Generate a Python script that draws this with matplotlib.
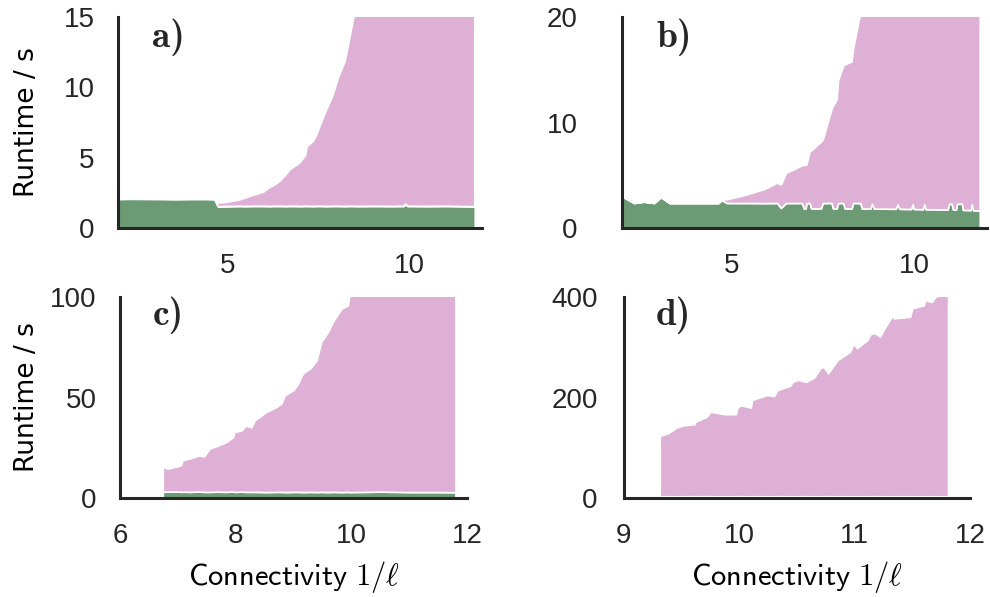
import matplotlib
matplotlib.use("Agg")
import matplotlib.pyplot as plt

plt.rcParams.update({
    "font.family": ["Liberation Sans", "DejaVu Sans"],
    "mathtext.fontset": "cm",
    "axes.edgecolor": "#262626",
    "text.color": "#262626",
    "xtick.color": "#262626",
    "ytick.color": "#262626",
})

GREEN = "#6b9a74"
PINK = "#dfb0d6"
SPINE = "#262626"

# ── panel a ───────────────────────────────────────────────────────────────────
xa = [2.0, 2.4, 2.8, 3.2, 3.6, 4.0, 4.4, 4.65,
      4.75, 5.0, 5.35, 5.5, 5.75, 6.0, 6.15, 6.3,
      6.45, 6.6, 6.73, 6.9, 7.0, 7.15, 7.2, 7.36,
      7.45, 7.55, 7.73, 7.91, 8.05, 8.24, 8.36, 8.47,
      8.6, 9.0, 9.5, 9.85, 9.9, 9.95, 10.5, 11.0,
      11.5, 11.8]
green_a = [2.05, 2.07, 2.06, 2.05, 2.04, 2.05, 2.05, 2.04,
           1.52, 1.53, 1.55, 1.54, 1.55, 1.55, 1.54, 1.55,
           1.55, 1.54, 1.55, 1.55, 1.54, 1.55, 1.55, 1.54,
           1.55, 1.55, 1.54, 1.55, 1.55, 1.54, 1.55, 1.55,
           1.54, 1.55, 1.54, 1.55, 1.72, 1.55, 1.54, 1.55,
           1.53, 1.52]
pink_a = [0, 0, 0, 0, 0, 0, 0, 0,
          0.25, 0.3, 0.45, 0.6, 0.8, 1.0, 1.3, 1.5,
          1.77, 2.2, 2.6, 2.9, 3.1, 3.6, 4.25, 4.6,
          5.0, 5.7, 6.85, 7.9, 9.1, 10.3, 11.85, 13.3,
          15.5, 18.0, 22.0, 25.0, 25.5, 26.0, 32.0, 38.0,
          44.0, 48.0]

# ── panel b ───────────────────────────────────────────────────────────────────
xb = [2.0, 2.33, 2.6, 2.88, 3.06, 3.3, 4.0, 4.64,
      4.73, 4.87, 5.4, 5.9, 6.25, 6.35, 6.49, 6.93,
      6.98, 7.03, 7.05, 7.14, 7.18, 7.45, 7.5, 7.74,
      7.78, 7.88, 7.92, 8.06, 8.1, 8.29, 8.33, 8.53,
      8.57, 8.8, 8.85, 8.9, 9.5, 9.55, 9.6, 9.92,
      9.96, 10.0, 10.24, 10.28, 10.32, 10.92, 10.96, 11.03,
      11.07, 11.15, 11.18, 11.31, 11.34, 11.55, 11.58, 11.62,
      11.8]
green_b = [3.0, 2.37, 2.5, 2.37, 2.94, 2.37, 2.37, 2.37,
           2.65, 2.37, 2.37, 2.36, 2.37, 1.9, 2.37, 2.37,
           1.85, 1.87, 2.37, 2.37, 1.86, 1.86, 2.37, 2.37,
           1.86, 1.86, 2.37, 2.37, 1.86, 1.85, 2.37, 2.37,
           1.85, 1.84, 2.3, 1.84, 1.82, 2.25, 1.82, 1.8,
           2.25, 1.8, 1.78, 2.25, 1.78, 1.75, 2.3, 2.3,
           1.74, 1.74, 2.3, 2.3, 1.72, 1.7, 2.25, 1.68,
           1.66]
pink_b = [0, 0, 0, 0, 0, 0, 0, 0,
          0.1, 0.35, 0.8, 1.34, 1.93, 2.2, 2.85, 3.58,
          4.12, 4.13, 3.63, 4.93, 5.49, 6.34, 6.03, 8.93,
          9.74, 10.34, 11.63, 13.03, 13.64, 13.95, 14.63, 18.13,
          19.15, 20.66, 20.7, 21.66, 26.18, 26.25, 27.18, 29.7,
          29.75, 30.2, 32.22, 32.05, 32.82, 37.25, 37.2, 37.7,
          38.56, 39.26, 38.9, 40.0, 40.78, 42.3, 42.05, 42.92,
          44.34]

# ── panel c ───────────────────────────────────────────────────────────────────
xc = [6.74, 6.83, 7.03, 7.06, 7.08, 7.2, 7.37, 7.45,
      7.55, 7.7, 7.84, 7.95, 7.98, 8.1, 8.18, 8.27,
      8.33, 8.53, 8.7, 8.79, 8.85, 9.0, 9.08, 9.16,
      9.3, 9.4, 9.48, 9.6, 9.68, 9.83, 9.94, 9.97,
      10.5, 11.0, 11.5, 11.8]
green_c = [3.2, 3.4, 3.3, 3.2, 3.3, 3.2, 3.4, 3.2,
           3.2, 3.3, 3.2, 3.4, 3.2, 3.3, 3.2, 3.2,
           3.2, 3.1, 3.2, 3.2, 3.1, 3.2, 3.2, 3.1,
           3.2, 3.1, 3.2, 3.1, 3.2, 3.1, 3.2, 3.1,
           3.3, 3.1, 3.1, 3.0]
pink_c = [12.4, 11.3, 12.9, 13.5, 15.6, 16.5, 17.9, 17.5,
          21.5, 22.9, 24.8, 26.8, 29.7, 30.4, 33.0, 32.0,
          35.5, 39.8, 42.0, 43.8, 48.0, 50.5, 53.7, 58.8,
          61.5, 65.4, 74.4, 79.6, 84.3, 91.0, 92.5, 98.1,
          109.4, 119.6, 129.6, 135.7]

# ── panel d ───────────────────────────────────────────────────────────────────
xd = [9.31, 9.38, 9.46, 9.52, 9.61, 9.62, 9.72, 9.75,
      9.87, 9.97, 9.98, 10.01, 10.1, 10.11, 10.24, 10.3,
      10.33, 10.44, 10.46, 10.51, 10.58, 10.65, 10.7, 10.73,
      10.77, 10.85, 10.96, 10.99, 11.02, 11.11, 11.14, 11.18,
      11.22, 11.25, 11.33, 11.34, 11.48, 11.5, 11.6, 11.61,
      11.67, 11.7, 11.81]
green_d = [4.0, 4.2, 3.9, 4.1, 4.0, 4.0, 4.3, 4.0,
           3.9, 4.0, 4.1, 4.0, 4.0, 4.2, 4.0, 3.9,
           4.0, 4.1, 4.0, 4.0, 4.2, 4.0, 3.9, 4.0,
           4.0, 4.1, 4.0, 4.0, 3.9, 4.0, 4.1, 4.0,
           4.0, 4.0, 3.9, 4.0, 4.1, 4.0, 4.0, 3.9,
           4.0, 4.0, 3.9]
pink_d = [120, 125, 137, 141, 143, 148, 158, 168,
          163, 163, 174, 181, 176, 191, 201, 199,
          211, 219, 227, 231, 227, 236, 254, 257,
          244, 270, 287, 303, 294, 310, 323, 323,
          317, 330, 360, 353, 356, 373, 379, 389,
          386, 396, 406]

panels = [
    # data, xlim, xticks, ylim, yticks, tag, axes rect, ytick pad
    ((xa, green_a, pink_a), (2, 12), [5, 10], (0, 15), [0, 5, 10, 15], "a)",
     [0.1192, 0.6181, 0.3677, 0.3534], 17),
    ((xb, green_b, pink_b), (2, 12), [5, 10], (0, 20), [0, 10, 20], "b)",
     [0.6283, 0.6181, 0.3687, 0.3534], 32),
    ((xc, green_c, pink_c), (6, 12), [6, 8, 10, 12], (0, 100), [0, 50, 100], "c)",
     [0.1212, 0.1653, 0.3505, 0.3377], 17),
    ((xd, green_d, pink_d), (9, 12), [9, 10, 11, 12], (0, 400), [0, 200, 400], "d)",
     [0.6303, 0.1653, 0.3495, 0.3377], 19),
]

fig = plt.figure(figsize=(9.9, 5.97), dpi=100, facecolor="white")

axes = []
for (x, g, p), xlim, xt, ylim, yt, tag, rect, ypad in panels:
    ax = fig.add_axes(rect)
    ax.stackplot(x, g, p, colors=[GREEN, PINK], edgecolor="white", linewidth=1.2)
    ax.set_xlim(*xlim)
    ax.set_ylim(*ylim)
    ax.set_xticks(xt)
    ax.set_yticks(yt)
    ax.tick_params(axis="x", length=0, pad=18, labelsize=20)
    ax.tick_params(axis="y", length=0, pad=ypad, labelsize=20)
    for side in ("top", "right"):
        ax.spines[side].set_visible(False)
    for side in ("left", "bottom"):
        ax.spines[side].set_color(SPINE)
        ax.spines[side].set_linewidth(2.2)
    ax.text(0.093, 0.86, tag, transform=ax.transAxes, family="cmb10",
            fontsize=27, ha="left", va="baseline")
    axes.append(ax)

ax_a, ax_b, ax_c, ax_d = axes

ax_a.set_ylabel("Runtime / s", fontsize=19, family="DejaVu Sans")
ax_a.yaxis.set_label_coords(-0.215, 0.5)
ax_c.set_ylabel("Runtime / s", fontsize=19, family="DejaVu Sans")
ax_c.yaxis.set_label_coords(-0.23, 0.5)

for ax in (ax_c, ax_d):
    ax.set_xlabel(r"$\mathsf{Connectivity}\ 1/\ell$", fontsize=22)
    ax.xaxis.set_label_coords(0.5, -0.30)

fig.savefig("out.png", dpi=100)
